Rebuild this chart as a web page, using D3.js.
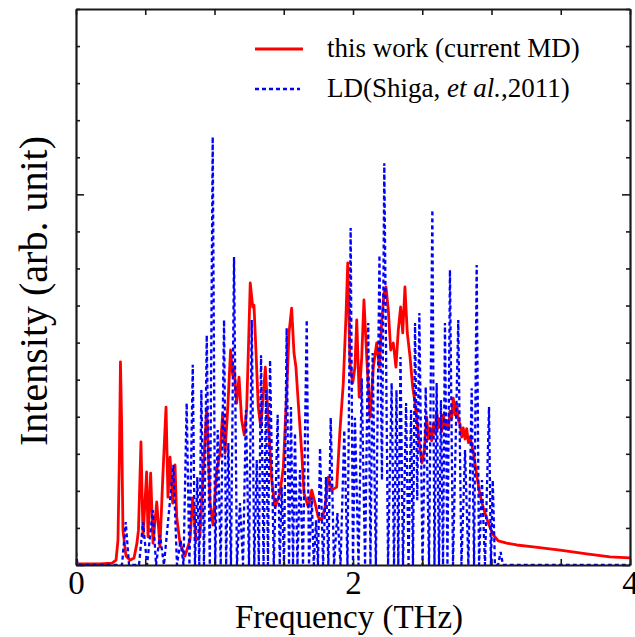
<!DOCTYPE html>
<html>
<head>
<meta charset="utf-8">
<script src="https://cdn.jsdelivr.net/npm/d3@7"></script>
<style>
  html, body { margin: 0; padding: 0; background: #fff; }
  svg { display: block; }
  text { font-family: "Liberation Serif", "Times New Roman", serif; fill: #000; }
</style>
</head>
<body>
<svg id="chart" width="635" height="637"></svg>
<script>
// Phonon density of states: MD spectrum (red) vs lattice dynamics (blue dotted)
const mdFreq = [0, 0.173, 0.260, 0.289, 0.303, 0.314, 0.321, 0.329, 0.339, 0.361, 0.390, 0.419, 0.440, 0.451, 0.469, 0.484, 0.510, 0.520, 0.539, 0.556, 0.583, 0.606, 0.628, 0.650, 0.664, 0.679, 0.698, 0.715, 0.727, 0.751, 0.787, 0.823, 0.843, 0.866, 0.895, 0.917, 0.944, 0.968, 0.989, 1.016, 1.040, 1.059, 1.076, 1.097, 1.116, 1.131, 1.141, 1.160, 1.177, 1.196, 1.215, 1.232, 1.244, 1.258, 1.276, 1.285, 1.300, 1.316, 1.334, 1.348, 1.367, 1.388, 1.413, 1.437, 1.473, 1.497, 1.521, 1.538, 1.557, 1.574, 1.588, 1.605, 1.630, 1.646, 1.677, 1.702, 1.726, 1.749, 1.774, 1.798, 1.822, 1.846, 1.882, 1.906, 1.930, 1.949, 1.962, 1.978, 1.998, 2.014, 2.027, 2.045, 2.063, 2.079, 2.099, 2.123, 2.147, 2.171, 2.190, 2.207, 2.224, 2.238, 2.255, 2.272, 2.291, 2.310, 2.327, 2.344, 2.359, 2.375, 2.392, 2.412, 2.431, 2.448, 2.464, 2.484, 2.498, 2.515, 2.532, 2.545, 2.556, 2.568, 2.580, 2.592, 2.604, 2.616, 2.628, 2.640, 2.652, 2.664, 2.676, 2.688, 2.700, 2.712, 2.724, 2.737, 2.749, 2.761, 2.773, 2.785, 2.796, 2.809, 2.821, 2.833, 2.845, 2.869, 2.893, 2.917, 2.941, 2.977, 3.013, 3.049, 3.110, 3.182, 3.302, 3.495, 3.687, 3.856, 4.0];
const mdIntensity = [0.03, 0.03, 0.05, 0.13, 0.67, 3.10, 5.48, 3.91, 0.94, 0.24, 0.13, 0.19, 0.59, 0.94, 3.32, 0.76, 2.51, 0.76, 2.48, 0.59, 1.70, 0.49, 2.48, 4.26, 1.83, 2.91, 1.67, 2.70, 1.29, 0.59, 0.24, 0.67, 1.81, 0.67, 0.76, 2.43, 4.24, 1.67, 1.08, 2.56, 3.02, 4.10, 3.02, 4.32, 5.80, 5.13, 5.34, 4.37, 5.07, 3.91, 3.51, 4.18, 5.72, 7.61, 6.96, 7.01, 5.72, 4.26, 3.72, 4.37, 5.34, 3.91, 2.29, 1.56, 1.94, 2.64, 4.64, 6.26, 6.93, 5.72, 5.34, 4.37, 3.02, 1.94, 1.56, 2.02, 1.67, 1.29, 1.21, 1.56, 2.37, 2.02, 2.10, 3.64, 4.91, 6.69, 8.15, 5.45, 4.91, 5.34, 6.61, 4.53, 5.61, 7.15, 5.61, 3.99, 5.34, 5.99, 5.34, 6.53, 7.34, 7.50, 6.88, 5.80, 5.99, 5.34, 6.34, 6.96, 6.26, 7.50, 6.26, 5.61, 4.80, 4.37, 3.83, 3.10, 2.75, 3.10, 3.99, 3.40, 3.70, 3.35, 3.80, 3.55, 4.15, 3.70, 3.95, 3.60, 4.05, 3.75, 3.90, 3.65, 4.15, 3.95, 4.50, 4.05, 4.35, 3.90, 3.80, 3.45, 3.70, 3.40, 3.68, 3.30, 3.45, 3.05, 2.43, 1.89, 1.54, 1.13, 0.81, 0.65, 0.59, 0.54, 0.49, 0.40, 0.30, 0.22, 0.19];

const ldFreq = [0, 0.011, 0.332, 0.359, 0.383, 0.455, 0.484, 0.513, 0.554, 0.578, 0.606, 0.635, 0.703, 0.729, 0.755, 0.776, 0.799, 0.819, 0.843, 0.859, 0.876, 0.890, 0.905, 0.924, 0.944, 0.966, 0.987, 1.005, 1.023, 1.045, 1.069, 1.084, 1.100, 1.119, 1.141, 1.162, 1.184, 1.206, 1.227, 1.249, 1.269, 1.287, 1.305, 1.320, 1.336, 1.354, 1.372, 1.386, 1.401, 1.428, 1.456, 1.471, 1.485, 1.502, 1.521, 1.538, 1.552, 1.567, 1.581, 1.599, 1.617, 1.639, 1.666, 1.682, 1.702, 1.717, 1.733, 1.747, 1.762, 1.784, 1.805, 1.822, 1.839, 1.863, 1.887, 1.910, 1.937, 1.960, 1.983, 2.000, 2.014, 2.040, 2.063, 2.087, 2.110, 2.126, 2.142, 2.165, 2.191, 2.209, 2.226, 2.253, 2.279, 2.296, 2.314, 2.327, 2.343, 2.361, 2.383, 2.401, 2.419, 2.433, 2.448, 2.464, 2.479, 2.502, 2.525, 2.549, 2.573, 2.588, 2.604, 2.621, 2.635, 2.650, 2.664, 2.682, 2.700, 2.722, 2.760, 2.783, 2.809, 2.833, 2.857, 2.874, 2.893, 2.910, 2.931, 2.953, 2.982, 2.996, 3.009, 3.025, 3.047, 3.066, 3.083, 4.0];
const ldIntensity = [0.35, 0, 0, 1.16, 0, 0, 1.16, 0, 1.48, 0, 0.81, 0, 2.70, 0, 0.67, 0, 4.37, 0, 5.40, 0, 2.37, 0, 4.72, 0, 6.20, 0, 11.55, 0, 3.64, 0, 6.61, 0, 3.29, 0, 8.31, 0, 1.67, 0, 4.18, 0, 6.61, 0, 2.83, 0, 5.66, 0, 4.72, 0, 5.53, 0, 4.05, 0, 2.10, 0, 6.39, 0, 4.26, 0, 3.56, 0, 2.56, 0, 6.61, 0, 1.83, 0, 1.21, 0, 3.16, 0, 2.37, 0, 3.97, 0, 1.40, 0, 3.64, 0, 9.09, 0, 3.97, 0, 5.04, 0, 6.53, 0, 5.72, 0, 8.36, 2.29, 10.84, 0, 4.91, 0, 4.72, 0, 5.61, 0, 4.37, 0, 4.18, 0, 6.53, 1.75, 6.80, 0, 4.80, 0, 9.58, 0, 4.91, 0, 4.45, 0, 6.53, 0, 7.96, 0, 6.61, 0, 3.10, 0, 4.77, 0, 8.09, 0, 2.29, 0, 4.26, 0, 2.29, 0, 0, 0.35, 0, 0];

const xTickValues = [0, 0.5, 1, 1.5, 2, 2.5, 3, 3.5, 4];
const xTickLabels = ["0", "", "", "", "2", "", "", "", "4"];
const yTickValues = [0, 1, 2, 3, 4, 5, 6, 7, 8, 9, 10, 11, 12, 13, 14, 15];
const yMajorTicks = [0, 10];

const legendLabels = ["this work (current MD)", "LD(Shiga, et al.,2011)"];

const svg = d3.select("#chart");
const margin = { left: 76, right: 5, top: 9, bottom: 72 };
const W = 635, H = 637;
const x = d3.scaleLinear().domain([0, 4]).range([margin.left, W - margin.right]);
const y = d3.scaleLinear().domain([0, 15]).range([H - margin.bottom, margin.top]);

svg.append("clipPath").attr("id", "plotClip")
  .append("rect")
  .attr("x", x(0)).attr("y", y(15))
  .attr("width", x(4) - x(0)).attr("height", y(0) - y(15));

const plot = svg.append("g").attr("clip-path", "url(#plotClip)");

const line = d3.line().x(d => x(d[0])).y(d => y(d[1]));

const mdData = mdFreq.map((f, i) => [f, mdIntensity[i]]);
const ldData = ldFreq.map((f, i) => [f, ldIntensity[i]]);

plot.append("path")
  .datum(mdData)
  .attr("d", line)
  .attr("fill", "none")
  .attr("stroke", "#ff0000")
  .attr("stroke-width", 2.8)
  .attr("stroke-linejoin", "round");

plot.append("path")
  .datum(ldData)
  .attr("d", line)
  .attr("fill", "none")
  .attr("stroke", "#0000ff")
  .attr("stroke-width", 2.3)
  .attr("stroke-dasharray", "4,3");

// Axes: bottom/top with inward ticks, left/right with minor and major ticks
const axisColor = "#1a1a1a";
const axisBottomG = svg.append("g").attr("transform", `translate(0,${y(0)})`)
  .call(d3.axisBottom(x).tickValues(xTickValues).tickSizeInner(-6).tickSizeOuter(0)
    .tickFormat((d, i) => xTickLabels[i]));
axisBottomG.selectAll("text").attr("font-size", 33).attr("dy", "0.9em").attr("y", -1);

const axisTopG = svg.append("g").attr("transform", `translate(0,${y(15)})`)
  .call(d3.axisTop(x).tickValues(xTickValues).tickSizeInner(-6).tickSizeOuter(0).tickFormat(""));

const axisLeftG = svg.append("g").attr("transform", `translate(${x(0)},0)`)
  .call(d3.axisLeft(y).tickValues(yTickValues).tickSizeOuter(0).tickFormat(""));
axisLeftG.selectAll(".tick line").attr("x2", d => yMajorTicks.includes(d) ? 8 : 4);

const axisRightG = svg.append("g").attr("transform", `translate(${x(4)},0)`)
  .call(d3.axisRight(y).tickValues(yTickValues).tickSizeOuter(0).tickFormat(""));
axisRightG.selectAll(".tick line").attr("x2", d => yMajorTicks.includes(d) ? -8 : -4);

[axisBottomG, axisTopG, axisLeftG, axisRightG].forEach(g => {
  g.select(".domain").attr("stroke", axisColor).attr("stroke-width", 2.2);
  g.selectAll(".tick line").attr("stroke", axisColor).attr("stroke-width", 1.6);
});

// Axis titles
svg.append("text")
  .attr("x", (x(0) + x(4)) / 2 - 4).attr("y", 628)
  .attr("text-anchor", "middle").attr("font-size", 33)
  .text("Frequency (THz)");

svg.append("text")
  .attr("transform", `translate(47,${(y(0) + y(15)) / 2 + 4}) rotate(-90)`)
  .attr("text-anchor", "middle").attr("font-size", 40)
  .text("Intensity (arb. unit)");

// Legend
const legend = svg.append("g");
legend.append("line")
  .attr("x1", 255).attr("x2", 303).attr("y1", 49).attr("y2", 49)
  .attr("stroke", "#ff0000").attr("stroke-width", 2.8);
legend.append("text").attr("x", 327).attr("y", 57).attr("font-size", 27)
  .text(legendLabels[0]);

legend.append("line")
  .attr("x1", 255).attr("x2", 300).attr("y1", 89).attr("y2", 89)
  .attr("stroke", "#0000ff").attr("stroke-width", 2.6).attr("stroke-dasharray", "4,3");
const t2 = legend.append("text").attr("x", 327).attr("y", 97).attr("font-size", 27);
t2.append("tspan").text("LD(Shiga, ");
t2.append("tspan").attr("font-style", "italic").text("et al.");
t2.append("tspan").text(",2011)");
</script>
</body>
</html>
